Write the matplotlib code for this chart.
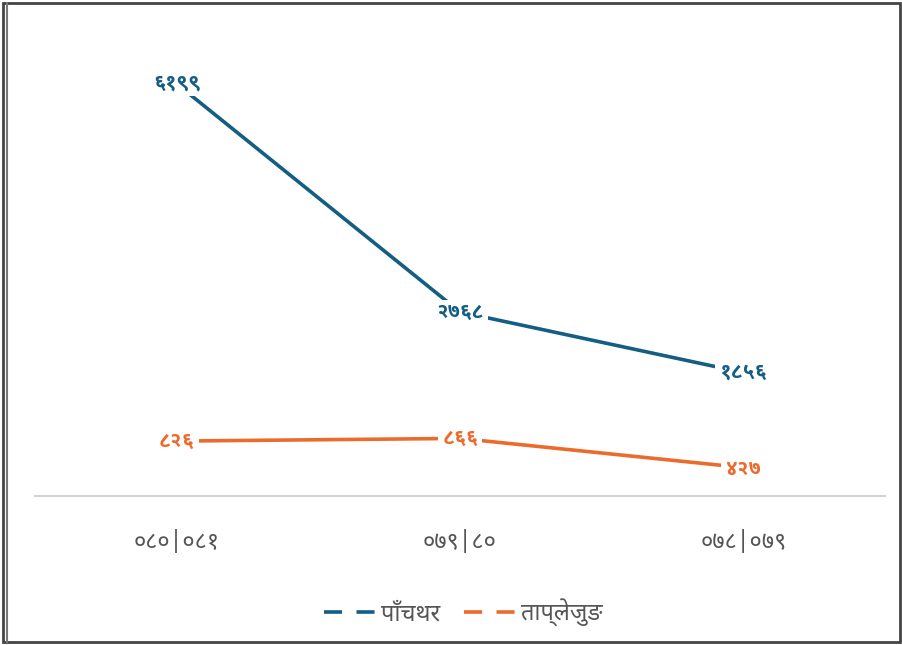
import matplotlib
matplotlib.use('Agg')
import matplotlib.pyplot as plt
from matplotlib import font_manager
from matplotlib.ft2font import FT2Font
from matplotlib.lines import Line2D
from matplotlib.patches import Rectangle

# devanagari font: register one from the system (Noto first)
deva = 'DejaVu Sans'
cands = sorted(font_manager.findSystemFonts(),
               key=lambda f: (('NotoSansDevanagari' not in f), ('UI' in f), f))
for f in cands:
    try:
        if ord('ङ') in FT2Font(f).get_charmap():
            font_manager.fontManager.addfont(f)
            deva = font_manager.FontProperties(fname=f).get_name()
            break
    except Exception:
        pass
plt.rcParams['font.family'] = [deva, 'DejaVu Sans']

# bold file for the data labels
bold_files = [f for f in cands if 'NotoSansDevanagari' in f and f.endswith('-Bold.ttf')]
if bold_files:
    label_font = dict(fontproperties=font_manager.FontProperties(fname=bold_files[0], size=15))
else:
    label_font = dict(fontsize=15, fontweight='bold')

# data
years = ['०८०|०८१', '०७९|८०', '०७८|०७९']
panchthar = [6199, 2768, 1856]
taplejung = [826, 866, 427]
panchthar_labels = ['६१९९', '२७६८', '१८५६']
taplejung_labels = ['८२६', '८६६', '४२७']
series_names = ['पाँचथर', 'ताप्लेजुङ']

blue = '#135e82'
orange = '#ec6b2b'

fig = plt.figure(figsize=(9.03, 6.45), dpi=100)
ax = fig.add_axes([35 / 903, 1 - 496 / 645, 850 / 903, 465.5 / 645])

x = range(len(years))
ax.plot(x, panchthar, color=blue, lw=2.6, zorder=2)
ax.plot(x, taplejung, color=orange, lw=2.6, zorder=2)

for xi, v, t in zip(x, panchthar, panchthar_labels):
    ax.text(xi, v, t, ha='center', va='center', color=blue, zorder=3,
            bbox=dict(boxstyle='square,pad=0.2', fc='white', ec='none'), **label_font)
for xi, v, t in zip(x, taplejung, taplejung_labels):
    ax.text(xi, v, t, ha='center', va='center', color=orange, zorder=3,
            bbox=dict(boxstyle='square,pad=0.2', fc='white', ec='none'), **label_font)

ax.set_xlim(-0.5, 2.5)
ax.set_ylim(0, 7000)
ax.set_xticks(list(x))
ax.set_xticklabels(years, fontsize=17, color='#555555')
ax.tick_params(axis='x', length=0, pad=25)
ax.set_yticks([])
for s in ['top', 'right', 'left']:
    ax.spines[s].set_visible(False)
ax.spines['bottom'].set_color('#d4d4d4')
ax.spines['bottom'].set_linewidth(1.5)

handles = [Line2D([0], [0], color=blue, lw=2.6, ls=(0, (5, 4))),
           Line2D([0], [0], color=orange, lw=2.6, ls=(0, (5, 4)))]
fig.legend(handles, series_names, loc='center', bbox_to_anchor=(0.513, 1 - 613 / 645),
           ncol=2, frameon=False, fontsize=17, handlelength=2.2, handletextpad=0.2,
           columnspacing=1.0, labelcolor='#555555')

# outer frame
fig.add_artist(Rectangle((3 / 903, 3 / 645), 897 / 903, 639 / 645, transform=fig.transFigure,
                         fill=False, ec='#444444', lw=2))
fig.add_artist(Line2D([7 / 903, 7 / 903], [3 / 645, 642 / 645], transform=fig.transFigure,
                      color='#777777', lw=1.5))

fig.savefig('out.png')
